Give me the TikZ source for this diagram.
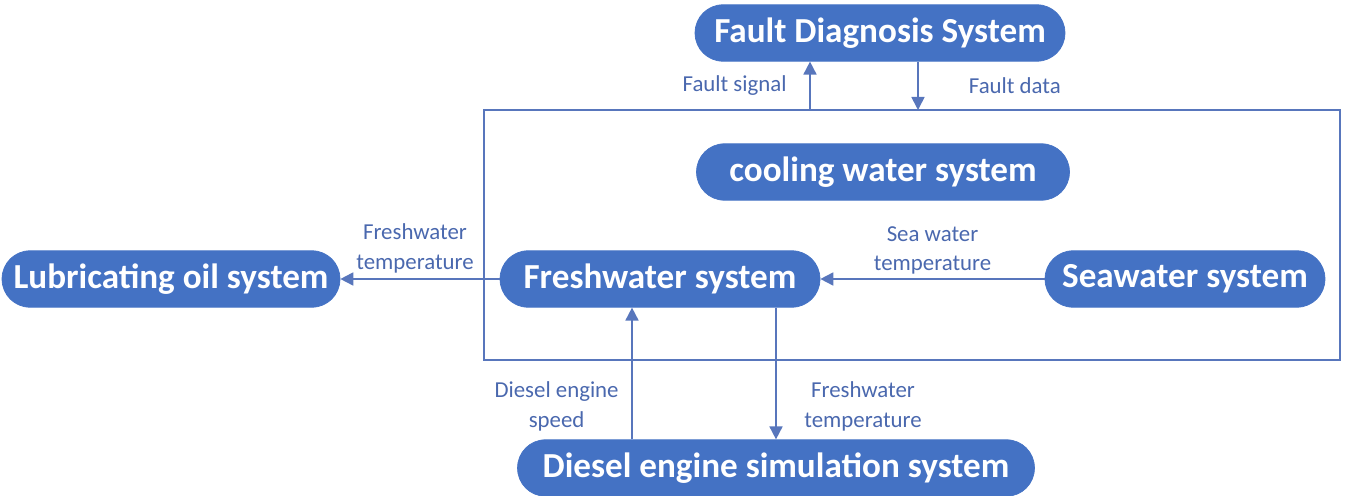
\documentclass[tikz,border=0pt]{standalone}
\usepackage{fontspec}
\setmainfont{Carlito}
\usepackage{xcolor}
\usepackage{tikz}
\usetikzlibrary{positioning,calc,arrows.meta,quotes}

\definecolor{sysblue}{HTML}{4472C4}
\definecolor{lineblue}{HTML}{5876BC}
\definecolor{lblblue}{HTML}{4A68AE}

\begin{document}
\begin{tikzpicture}[x=0.02cm, y=-0.02cm, ->, >={Triangle[length=2.6mm, width=2.6mm]}, main/.style = {rectangle, rounded corners=5.6mm, fill=sysblue, draw=sysblue, text=white, minimum height=11.3mm, inner sep=0pt, font=\fontsize{20}{22}\selectfont\bfseries}, every edge/.append style={draw=lineblue, line width=1pt}, lbl/.style={text=lblblue, align=center, inner sep=0pt, font=\fontsize{13}{17}\selectfont}]

\useasboundingbox (0,0) rectangle (1360,496);

\node[draw=lineblue, line width=0.9pt, minimum width=17.12cm, minimum height=5cm, inner sep=0pt] (frame) at (912,235) {};

\node[main, minimum width=7.4cm] (fds) at (880,33) {Fault Diagnosis System};
\node[main, minimum width=7.46cm] (cws) at (883,172) {cooling water system};
\node[main, minimum width=6.4cm] (fws) at (660,279) {Freshwater system};
\node[main, minimum width=5.6cm] (sws) at (1185,279) {Seawater system};
\node[main, minimum width=6.76cm] (los) at (171,279) {Lubricating oil system};
\node[main, minimum width=10.34cm] (des) at (776,468) {Diesel engine simulation system};

\coordinate (sig) at (810,110);
\coordinate (dat) at (918,110);
\coordinate (spd) at (632,0);
\coordinate (fwt) at (776,0);

\path
 (sig) edge["Fault signal" {lbl, left=0.45cm}] (sig |- fds.south)
 (dat |- fds.south) edge["Fault data" {lbl, right=1cm}] (dat)
 (sws) edge["Sea water\\temperature" {lbl, above=2pt}] (fws)
 (fws) edge["Freshwater\\temperature" {lbl, above=3pt, xshift=-0.1cm}] (los)
 (spd |- des.north) edge["Diesel engine\\speed" {lbl, left=0.25cm, pos=0.25}] (spd |- fws.south)
 (fwt |- fws.south) edge["Freshwater\\temperature" {lbl, right=0.55cm, pos=0.75}] (fwt |- des.north);
\end{tikzpicture}
\end{document}
